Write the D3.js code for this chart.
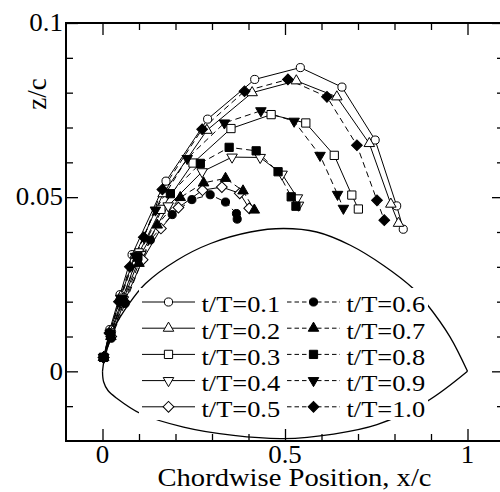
<!DOCTYPE html>
<html>
<head>
<meta charset="utf-8">
<script src="https://cdn.jsdelivr.net/npm/d3@7"></script>
<style>
  body { margin: 0; background: #fff; }
  svg { display: block; font-family: "Liberation Serif", "Times New Roman", serif; }
</style>
</head>
<body>
<div id="chart"></div>
<script>
// vortex core positions [x/c, z/c] for each phase t/T
const phases = ['t/T=0.1', 't/T=0.2', 't/T=0.3', 't/T=0.4', 't/T=0.5',
                't/T=0.6', 't/T=0.7', 't/T=0.8', 't/T=0.9', 't/T=1.0'];

const t01 = [[0.003,0.004],[0.020,0.012],[0.048,0.022],[0.081,0.0335],[0.174,0.0546],[0.288,0.0724],
             [0.417,0.0838],[0.542,0.0872],[0.656,0.0816],[0.747,0.0664],[0.806,0.0475],[0.824,0.0408]];
const t02 = [[0.003,0.004],[0.021,0.0115],[0.050,0.0215],[0.090,0.0335],[0.166,0.051],[0.286,0.0692],
             [0.410,0.0800],[0.531,0.0834],[0.642,0.0788],[0.731,0.0654],[0.790,0.0480],[0.811,0.0425]];
const t03 = [[0.003,0.004],[0.022,0.011],[0.055,0.021],[0.100,0.034],[0.160,0.0465],[0.248,0.0598],
             [0.352,0.0697],[0.462,0.0737],[0.557,0.0713],[0.635,0.0620],[0.683,0.0506],[0.701,0.0466]];
const t04 = [[0.003,0.004],[0.022,0.0105],[0.057,0.0205],[0.105,0.0335],[0.180,0.0475],[0.273,0.0573],
             [0.355,0.0615],[0.432,0.0614],[0.492,0.0566],[0.534,0.0498],[0.537,0.0477]];
const t05 = [[0.003,0.004],[0.024,0.010],[0.060,0.020],[0.110,0.032],[0.160,0.041],[0.208,0.0470],
             [0.274,0.0520],[0.327,0.0529],[0.376,0.0511],[0.402,0.0468]];
const t06 = [[0.003,0.004],[0.024,0.0095],[0.062,0.0195],[0.131,0.0377],[0.191,0.0450],[0.245,0.0493],
             [0.295,0.0507],[0.337,0.0486],[0.367,0.0453],[0.369,0.0437]];
const t07 = [[0.003,0.004],[0.023,0.010],[0.058,0.020],[0.100,0.031],[0.150,0.0420],[0.213,0.0499],
             [0.277,0.0541],[0.337,0.0554],[0.385,0.0518],[0.416,0.0463]];
const t08 = [[0.003,0.004],[0.022,0.0105],[0.055,0.0205],[0.097,0.0330],[0.186,0.0510],[0.268,0.0597],
             [0.347,0.0643],[0.421,0.0633],[0.481,0.0573],[0.517,0.0501],[0.530,0.0474]];
const t09 = [[0.003,0.004],[0.021,0.011],[0.050,0.021],[0.090,0.033],[0.145,0.0463],[0.232,0.0611],
             [0.334,0.0713],[0.434,0.0748],[0.525,0.0718],[0.596,0.0620],[0.644,0.0508],[0.660,0.0468]];
const t10 = [[0.003,0.004],[0.019,0.011],[0.045,0.020],[0.075,0.030],[0.113,0.0385],[0.164,0.0522],
             [0.273,0.0695],[0.389,0.0804],[0.508,0.0838],[0.615,0.0788],[0.697,0.0649],[0.752,0.0491],[0.772,0.0434]];

// airfoil outline, leading edge -> trailing edge
const airfoilUpper = [[0,0],[0.004,0.003],[0.013,0.0065],[0.035,0.013],[0.07,0.019],[0.118,0.0252],
                      [0.204,0.0319],[0.296,0.0367],[0.405,0.040],[0.496,0.041],[0.587,0.040],[0.679,0.0362],
                      [0.770,0.0304],[0.852,0.0237],[0.888,0.0194],[0.952,0.0099],[1.0,0]];
const airfoilLower = [[0,0],[0.003,-0.003],[0.015,-0.0055],[0.040,-0.0078],[0.104,-0.0121],[0.222,-0.016],
                      [0.359,-0.0184],[0.496,-0.0193],[0.633,-0.0180],[0.752,-0.0153],[0.888,-0.0087],[1.0,0]];

const xMajor = [0, 0.5, 1];
const xMinor = [0.1, 0.2, 0.3, 0.4, 0.6, 0.7, 0.8, 0.9];
const yMajor = [0, 0.05, 0.1];
const yMinor = [-0.01, 0.01, 0.02, 0.03, 0.04, 0.06, 0.07, 0.08, 0.09];
const xTickText = ['0', '0.5', '1'];
const yTickText = ['0', '0.05', '0.1'];

const series = [t01, t02, t03, t04, t05, t06, t07, t08, t09, t10].map((pts, i) => ({
  name: phases[i],
  points: pts,
  filled: i >= 5,
  shape: i % 5
}));

const width = 500, height = 492;
const stretch = 1.1; // the original figure is a little wider than tall
const x = d3.scaleLinear().domain([-0.1, 1.1]).range([66, 504]);
const y = d3.scaleLinear().domain([-0.02, 0.1]).range([441, 23]);

const svg = d3.select('#chart').append('svg')
  .attr('width', width).attr('height', height);

// marker shapes: circle, triangle up, square, triangle down, diamond
const symbols = [
  d3.symbol(d3.symbolCircle, 52),
  d3.symbol(d3.symbolTriangle, 48),
  d3.symbol(d3.symbolSquare, 68),
  d3.symbol(d3.symbolTriangle, 48),
  d3.symbol(d3.symbolSquare, 58)
];
function marker(g, shape, filled) {
  const rot = shape === 3 ? 180 : shape === 4 ? 45 : 0;
  g.append('path')
    .attr('d', symbols[shape]())
    .attr('transform', `rotate(${rot})`)
    .attr('fill', filled ? '#000' : '#fff')
    .attr('stroke', '#000')
    .attr('stroke-width', 1);
}

// text with the wide look of the original
function label(parent, tx, ty, str, size, anchor) {
  return parent.append('text')
    .attr('transform', `translate(${tx},${ty}) scale(${stretch},1)`)
    .attr('text-anchor', anchor || 'start')
    .attr('font-size', size)
    .text(str);
}

const line = d3.line().x(d => x(d[0])).y(d => y(d[1]));
const smooth = d3.line().x(d => x(d[0])).y(d => y(d[1])).curve(d3.curveCatmullRom);

// airfoil
[airfoilUpper, airfoilLower].forEach(pts => {
  svg.append('path').attr('d', smooth(pts))
    .attr('fill', 'none').attr('stroke', '#000').attr('stroke-width', 1.3);
});

// series lines
series.forEach(s => {
  svg.append('path')
    .attr('d', line(s.points))
    .attr('fill', 'none')
    .attr('stroke', '#000')
    .attr('stroke-width', 1)
    .attr('stroke-dasharray', s.filled ? '6,4' : null);
});

// series markers
series.forEach(s => {
  s.points.forEach(p => {
    const g = svg.append('g').attr('transform', `translate(${x(p[0])},${y(p[1])})`);
    marker(g, s.shape, s.filled);
  });
});

// axes: inward ticks on all four sides
const axes = [
  [d3.axisBottom, x, `translate(0,${y.range()[0]})`, xMinor, xMajor],
  [d3.axisTop, x, `translate(0,${y.range()[1]})`, xMinor, xMajor],
  [d3.axisLeft, y, `translate(${x.range()[0]},0)`, yMinor, yMajor],
  [d3.axisRight, y, `translate(${x.range()[1]},0)`, yMinor, yMajor]
];
axes.forEach(([mk, sc, tr, minor, major]) => {
  svg.append('g').attr('transform', tr)
    .call(mk(sc).tickValues(minor).tickSize(-7).tickSizeOuter(0).tickFormat(''));
  svg.append('g').attr('transform', tr)
    .call(mk(sc).tickValues(major).tickSize(-12).tickSizeOuter(0).tickFormat(''));
});
svg.selectAll('.domain').remove();
svg.selectAll('.tick line').attr('stroke-width', 1.3);

// tick labels
xMajor.forEach((v, i) => label(svg, x(v), 462.5, xTickText[i], 24.5, 'middle'));
yMajor.forEach((v, i) => label(svg, 63, y(v) + 8.3, yTickText[i], 24.5, 'end'));

svg.append('rect')
  .attr('x', x.range()[0]).attr('y', y.range()[1])
  .attr('width', x.range()[1] - x.range()[0]).attr('height', y.range()[0] - y.range()[1])
  .attr('fill', 'none').attr('stroke', '#000').attr('stroke-width', 2);

// axis titles
label(svg, 294.5, 486, 'Chordwise Position, x/c', 26, 'middle');
svg.append('text')
  .attr('transform', 'translate(46,94) rotate(-90)')
  .attr('text-anchor', 'middle').attr('font-size', 27)
  .text('z/c');

// legend
const legend = svg.append('g');
legend.append('rect')
  .attr('x', 139).attr('y', 288).attr('width', 289).attr('height', 132)
  .attr('fill', '#fff');
series.forEach((s, i) => {
  const x0 = s.filled ? 287 : 142;
  const yy = 302 + (i % 5) * 26.2;
  const g = legend.append('g');
  g.append('line')
    .attr('x1', x0).attr('x2', x0 + 53).attr('y1', yy).attr('y2', yy)
    .attr('stroke', '#000').attr('stroke-width', 1)
    .attr('stroke-dasharray', s.filled ? '4.5,3' : null);
  marker(g.append('g').attr('transform', `translate(${x0 + 26.5},${yy})`), s.shape, s.filled);
  label(g, x0 + 59.5, yy + 10.4, s.name, 24);
});
</script>
</body>
</html>
